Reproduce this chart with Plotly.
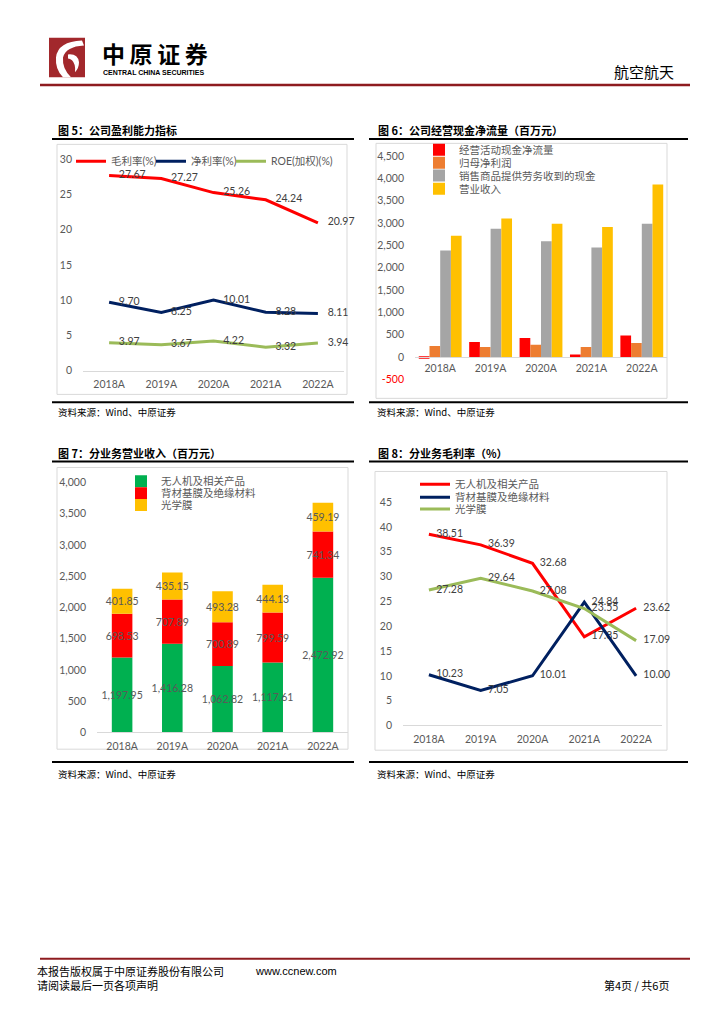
import plotly.graph_objects as go

W, H = 724, 1024
FONT = "Lato, Noto Sans CJK SC"
CJK = "Noto Sans CJK SC"


def fx(p):
    return p / W


def fy(p):
    return 1 - p / H


# ---------------- data ----------------
years = ["2018A", "2019A", "2020A", "2021A", "2022A"]

# Fig 5 profitability (%)
gross_margin = [27.67, 27.27, 25.26, 24.24, 20.97]
net_margin = [9.70, 8.25, 10.01, 8.28, 8.11]
roe = [3.97, 3.67, 4.22, 3.32, 3.94]

# Fig 6 cash flow (mn yuan)
op_cashflow = [-40, 333, 422, 52, 481]
net_profit = [244, 222, 274, 222, 311]
cash_from_sales = [2385, 2874, 2593, 2452, 2985]
revenue = [2719, 3104, 2985, 2911, 3867]

# Fig 7 revenue by segment (mn yuan)
rev_uav = [1197.95, 1416.28, 1062.82, 1117.61, 2472.92]
rev_film = [698.53, 707.89, 700.89, 799.59, 741.34]
rev_optical = [401.85, 435.15, 493.28, 444.13, 459.19]

# Fig 8 gross margin by segment (%)
gm_uav = [38.51, 36.39, 32.68, 17.85, 23.62]
gm_film = [10.23, 7.05, 10.01, 24.84, 10.00]
gm_optical = [27.28, 29.64, 27.08, 23.55, 17.09]

# tick labels
ticks5 = [0, 5, 10, 15, 20, 25, 30]
ticks6 = [-500, 0, 500, 1000, 1500, 2000, 2500, 3000, 3500, 4000, 4500]
ticks7 = [0, 500, 1000, 1500, 2000, 2500, 3000, 3500, 4000]
ticks8 = [0, 5, 10, 15, 20, 25, 30, 35, 40, 45]

RED = "#FF0000"
NAVY = "#002060"
LGREEN = "#9BBB59"
ORANGE = "#ED7D31"
GRAY = "#A5A5A5"
YELLOW = "#FFC000"
GREEN = "#00B050"
LBL = "#404040"
AX = "#595959"

fig = go.Figure()


def fmt2(v):
    return f"{v:.2f}"


def line_trace(y, name, color, xa, ya, legend, msize):
    return go.Scatter(
        x=years, y=y, name=name, mode="lines+markers+text",
        line=dict(color=color, width=3),
        marker=dict(size=msize, color="rgba(0,0,0,0)", line=dict(width=0)),
        text=[fmt2(v) for v in y], textposition="middle right",
        textfont=dict(family=FONT, size=10.5, color=LBL),
        cliponaxis=False, xaxis=xa, yaxis=ya, legend=legend, showlegend=True,
    )


# Fig 5
fig.add_trace(line_trace(gross_margin, "毛利率(%)", RED, "x", "y", "legend", 14))
fig.add_trace(line_trace(net_margin, "净利率(%)", NAVY, "x", "y", "legend2", 14))
fig.add_trace(line_trace(roe, "ROE(加权)(%)", LGREEN, "x", "y", "legend3", 14))

# Fig 6
for vals, name, color, lg in [
    (op_cashflow, "经营活动现金净流量", RED, "legend4"),
    (net_profit, "归母净利润", ORANGE, "legend5"),
    (cash_from_sales, "销售商品提供劳务收到的现金", GRAY, "legend6"),
    (revenue, "营业收入", YELLOW, "legend7"),
]:
    fig.add_trace(go.Bar(x=years, y=vals, name=name, marker=dict(color=color, line=dict(width=0)),
                         xaxis="x2", yaxis="y2", legend=lg, showlegend=True))

# Fig 7 (stacked via shared offsetgroup + base)
base_film = [a for a in rev_uav]
base_opt = [a + b for a, b in zip(rev_uav, rev_film)]
for vals, base, name, color, lg in [
    (rev_uav, None, "无人机及相关产品", GREEN, "legend8"),
    (rev_film, base_film, "背材基膜及绝缘材料", RED, "legend9"),
    (rev_optical, base_opt, "光学膜", YELLOW, "legend10"),
]:
    fig.add_trace(go.Bar(
        x=years, y=vals, base=base, name=name, offsetgroup="s7",
        width=0.41, offset=-0.205,
        marker=dict(color=color, line=dict(width=0)),
        text=[f"{v:,.2f}" for v in vals], textposition="inside",
        insidetextanchor="middle", textangle=0, constraintext="none",
        insidetextfont=dict(family=FONT, size=10.5, color=AX),
        xaxis="x3", yaxis="y3", legend=lg, showlegend=True,
    ))

# Fig 8
fig.add_trace(line_trace(gm_uav, "无人机及相关产品", RED, "x4", "y4", "legend11", 10))
fig.add_trace(line_trace(gm_film, "背材基膜及绝缘材料", NAVY, "x4", "y4", "legend12", 10))
fig.add_trace(line_trace(gm_optical, "光学膜", LGREEN, "x4", "y4", "legend13", 10))

tickfont = dict(family=FONT, size=10.5, color=AX)


def xax(x0, x1, anchor, **kw):
    d = dict(domain=[fx(x0), fx(x1)], anchor=anchor, type="category", range=[-0.5, 4.5],
             showgrid=False, zeroline=False, showline=True, linecolor="#D9D9D9",
             linewidth=1, ticks="", tickfont=tickfont, ticklabelstandoff=4, fixedrange=True)
    d.update(kw)
    return d


def yax(ytop, ybot, rng, tickvals, ticktext, anchor):
    return dict(domain=[fy(ybot), fy(ytop)], anchor=anchor, range=rng,
                tickvals=tickvals, ticktext=ticktext, showgrid=False, zeroline=False,
                showline=False, ticks="", tickfont=tickfont, ticklabelstandoff=10,
                fixedrange=True)


def comma(v):
    return f"{v:,}"


tt6 = [('<span style="color:#FF0000">' + comma(v) + "</span>") if v < 0 else comma(v) for v in ticks6]


def leg(x_text, y_center):
    return dict(x=fx(x_text - 40), y=fy(y_center), xanchor="left", yanchor="middle",
                orientation="v", bgcolor="rgba(0,0,0,0)", borderwidth=0,
                font=dict(family=FONT, size=10.5, color=AX), itemwidth=30)


fig.update_layout(
    width=W, height=H, margin=dict(l=0, r=0, t=0, b=0), showlegend=True,
    paper_bgcolor="white", plot_bgcolor="rgba(0,0,0,0)",
    barmode="group", bargap=0.15, bargroupgap=0,
    font=dict(family=FONT, size=10.5, color=AX),
    xaxis=xax(83, 344, "y"),
    yaxis=yax(155, 369, [0, 30], ticks5, [str(v) for v in ticks5], "x"),
    xaxis2=xax(415, 667, "free", position=fy(355), ticklabelstandoff=2),
    yaxis2=yax(152, 377.6, [-500, 4500], ticks6, tt6, "x2"),
    xaxis3=xax(97, 348, "y3"),
    yaxis3=yax(482, 735, [0, 4000], ticks7, [comma(v) for v in ticks7], "x3"),
    xaxis4=xax(403, 662, "y4"),
    yaxis4=yax(502, 728, [0, 45], ticks8, [str(v) for v in ticks8], "x4"),
    legend=leg(111, 157), legend2=leg(191, 157), legend3=leg(271, 157),
    legend4=leg(459, 145.5), legend5=leg(459, 158.5), legend6=leg(459, 171.5), legend7=leg(459, 185),
    legend8=leg(161, 481), legend9=leg(161, 493), legend10=leg(161, 505),
    legend11=leg(455, 484), legend12=leg(455, 497), legend13=leg(455, 509),
)

shapes = []


def pline(x0, y0, x1, y1, color="black", width=2):
    shapes.append(dict(type="line", xref="paper", yref="paper", x0=fx(x0), y0=fy(y0),
                       x1=fx(x1), y1=fy(y1), line=dict(color=color, width=width)))


def prect(x0, y0, x1, y1, color="#D9D9D9", fill="rgba(0,0,0,0)", width=1):
    shapes.append(dict(type="rect", xref="paper", yref="paper", x0=fx(x0), y0=fy(y0),
                       x1=fx(x1), y1=fy(y1), line=dict(color=color, width=width), fillcolor=fill,
                       layer="below"))


def ppath(pts, fill):
    d = "M " + " ".join(
        (f"{c} " if isinstance(c, str) else f"{fx(c[0]):.5f},{fy(c[1]):.5f} ") for c in pts) + "Z"
    shapes.append(dict(type="path", xref="paper", yref="paper", path=d,
                       fillcolor=fill, line=dict(width=0)))


# header logo
prect(49, 32, 85, 72, color="#A2282C", fill="#A2282C", width=0)
ppath([(82, 35), "Q", (58, 36), (56, 52), "Q", (55, 64), (63, 72), "L", (71, 72),
       "Q", (62, 63), (63, 52), "Q", (66, 41), (84, 40)], "white")
ppath([(68, 49), "Q", (78, 48), (79, 57), "Q", (79, 63), (75, 67), "Q", (76, 59), (72, 55),
       "Q", (70, 53), (68, 53)], "white")
pline(40, 80, 690, 80, color="#8E1B1F", width=2.5)
# footer
pline(40, 964, 690, 964, color="#8E1B1F", width=2)

# chart frames & rules
prect(57, 140, 347, 393)
prect(376, 139, 667, 397)
prect(57, 467, 348, 752)
prect(375, 471, 667, 753)
pline(52, 134.5, 354, 134.5)
pline(369, 134.5, 688, 134.5)
pline(52, 401, 354, 401)
pline(369, 401, 688, 401)
pline(52, 461, 354, 461)
pline(369, 461, 688, 461)
pline(52, 765, 354, 765)
pline(369, 765, 688, 765)

fig.update_layout(shapes=shapes)

ann = []


def txt(x, y, s, size=11, color="black", family=CJK, anchor="left", bold=False):
    if bold:
        s = "<b>" + s + "</b>"
    ann.append(dict(xref="paper", yref="paper", x=fx(x), y=fy(y), text=s, showarrow=False,
                    xanchor=anchor, yanchor="middle", borderpad=0,
                    font=dict(family=family, size=size, color=color)))


txt(101, 48, "<b>中\u2009原\u2009证\u2009券</b>", size=23, family=CJK)
txt(102, 67, "<b>CENTRAL CHINA SECURITIES</b>", size=7, family="Liberation Sans")
txt(675, 66, "航空航天", size=15, anchor="right")

txt(57, 125, "图 5：公司盈利能力指标", size=11, bold=True)
txt(377, 125, "图 6：公司经营现金净流量（百万元）", size=11, bold=True)
txt(57, 452, "图 7：分业务营业收入（百万元）", size=11, bold=True)
txt(377, 452, "图 8：分业务毛利率（%）", size=11, bold=True)

for sx, sy in [(57, 411), (376, 411), (57, 777), (376, 777)]:
    txt(sx, sy, "资料来源：Wind、中原证券", size=9.5)

txt(36, 976, "本报告版权属于中原证券股份有限公司", size=11)
txt(254, 976, "www.ccnew.com", size=11, family="Liberation Sans")
txt(36, 991, "请阅读最后一页各项声明", size=11)
txt(670, 991, "第4页 / 共6页", size=11, anchor="right")

fig.update_layout(annotations=ann)

fig.write_html(
    "out.html",
    config={"displayModeBar": False},
    post_script="document.body.style.margin='0';document.body.style.overflow='hidden';",
)
